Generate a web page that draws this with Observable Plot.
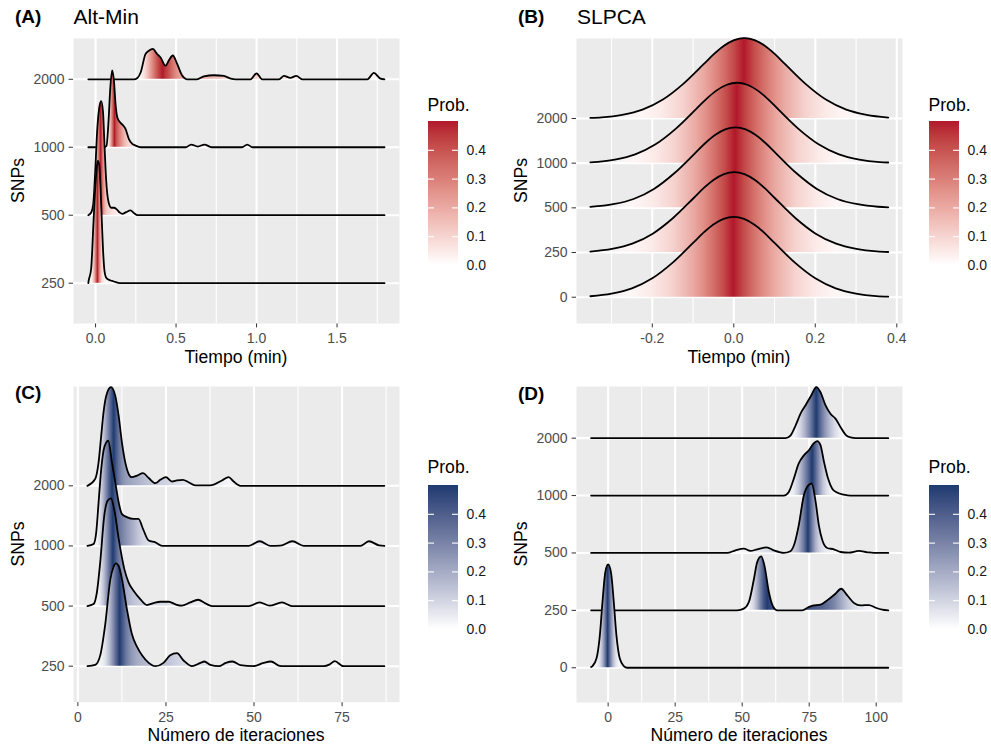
<!DOCTYPE html>
<html><head><meta charset="utf-8">
<script src="https://cdn.jsdelivr.net/npm/d3@7"></script>
<script src="https://cdn.jsdelivr.net/npm/@observablehq/plot@0.6"></script>
<style>
body{margin:0;background:#fff;}
#root{position:relative;width:991px;height:751px;overflow:hidden;font-family:"Liberation Sans",Arial,Helvetica,sans-serif;}
#root svg{position:absolute;overflow:visible;}
</style></head><body><div id="root"></div>
<script>
// ---------------- DATA ----------------
const snpsABC = ["250", "500", "1000", "2000"];
const snpsBD = ["0", "250", "500", "1000", "2000"];

// Panel A: Alt-Min, Tiempo (min) — density curves (x, height in row units)
const altMin250X = [-0.045, -0.0435, -0.027, -0.0145, -0.002, 0.0104, 0.0145, 0.0228, 0.031, 0.039, 0.048, 0.056, 0.068, 0.093, 0.114, 0.151, 1.795];
const altMin250H = [0, 0.025, 0.22, 0.81, 1.40, 1.76, 1.80, 1.74, 1.40, 0.91, 0.42, 0.17, 0.074, 0.04, 0.025, 0, 0];
const altMin500X = [-0.045, -0.027, -0.0145, -0.002, 0.010, 0.023, 0.035, 0.046, 0.056, 0.066, 0.081, 0.097, 0.114, 0.13, 0.15, 0.166, 0.19, 0.217, 0.24, 0.26, 1.795];
const altMin500H = [0, 0.04, 0.16, 0.65, 1.24, 1.58, 1.68, 1.53, 1.0, 0.51, 0.19, 0.11, 0.11, 0.09, 0.04, 0.02, 0.045, 0.07, 0.03, 0, 0];
const altMin1000X = [-0.045, 0.052, 0.068, 0.081, 0.091, 0.1035, 0.114, 0.124, 0.135, 0.151, 0.172, 0.186, 0.207, 0.228, 0.248, 0.28, 0.56, 0.594, 0.635, 0.677, 0.72, 0.91, 0.942, 0.975, 1.795];
const altMin1000H = [0, 0, 0.02, 0.4, 0.85, 1.13, 0.98, 0.64, 0.44, 0.37, 0.32, 0.27, 0.12, 0.05, 0.025, 0, 0, 0.04, 0.01, 0.04, 0, 0, 0.04, 0, 0];
const altMin2000X = [-0.045, 0.238, 0.26, 0.28, 0.31, 0.331, 0.356, 0.383, 0.404, 0.435, 0.455, 0.48, 0.507, 0.538, 0.567, 0.63, 0.673, 0.735, 0.797, 0.84, 0.87, 0.963, 1.0, 1.035, 1.14, 1.17, 1.21, 1.247, 1.284, 1.688, 1.729, 1.77, 1.795];
const altMin2000H = [0, 0, 0.02, 0.10, 0.37, 0.42, 0.446, 0.37, 0.32, 0.20, 0.275, 0.35, 0.225, 0.054, 0, 0, 0.044, 0.059, 0.049, 0.01, 0, 0, 0.088, 0, 0, 0.05, 0.02, 0.05, 0, 0, 0.093, 0.01, 0];

// Panel B: SLPCA, Tiempo (min)
const slpca0X = [-0.352, -0.3, -0.25, -0.2, -0.15, -0.1, -0.075, -0.05, -0.025, 0, 0.025, 0.05, 0.075, 0.1, 0.15, 0.2, 0.25, 0.3, 0.35, 0.379];
const slpca0H = [0.022, 0.081, 0.198, 0.423, 0.774, 1.215, 1.44, 1.629, 1.755, 1.80, 1.755, 1.629, 1.44, 1.215, 0.774, 0.423, 0.198, 0.081, 0.025, 0.012];
const slpca250X = [-0.352, -0.299, -0.249, -0.199, -0.149, -0.099, -0.074, -0.049, -0.024, 0.001, 0.026, 0.051, 0.076, 0.101, 0.151, 0.201, 0.251, 0.301, 0.351, 0.379];
const slpca250H = [0.022, 0.081, 0.198, 0.423, 0.774, 1.215, 1.44, 1.629, 1.755, 1.80, 1.755, 1.629, 1.44, 1.215, 0.774, 0.423, 0.198, 0.081, 0.025, 0.012];
const slpca500X = [-0.352, -0.296, -0.246, -0.196, -0.146, -0.096, -0.071, -0.046, -0.021, 0.004, 0.029, 0.054, 0.079, 0.104, 0.154, 0.204, 0.254, 0.304, 0.354, 0.379];
const slpca500H = [0.02, 0.081, 0.198, 0.423, 0.774, 1.215, 1.44, 1.629, 1.755, 1.80, 1.755, 1.629, 1.44, 1.215, 0.774, 0.423, 0.198, 0.081, 0.025, 0.013];
const slpca1000X = [-0.352, -0.292, -0.242, -0.192, -0.142, -0.092, -0.067, -0.042, -0.017, 0.008, 0.033, 0.058, 0.083, 0.108, 0.158, 0.208, 0.258, 0.308, 0.358, 0.379];
const slpca1000H = [0.018, 0.081, 0.198, 0.423, 0.774, 1.215, 1.44, 1.629, 1.755, 1.80, 1.755, 1.629, 1.44, 1.215, 0.774, 0.423, 0.198, 0.081, 0.025, 0.015];
const slpca2000X = [-0.352, -0.324, -0.274, -0.224, -0.174, -0.124, -0.074, -0.049, -0.024, 0.001, 0.026, 0.051, 0.076, 0.101, 0.126, 0.176, 0.226, 0.276, 0.326, 0.379];
const slpca2000H = [0.012, 0.025, 0.081, 0.198, 0.423, 0.774, 1.215, 1.44, 1.629, 1.755, 1.80, 1.755, 1.629, 1.44, 1.215, 0.774, 0.423, 0.198, 0.081, 0.02];

// Panel C: Alt-Min, Número de iteraciones
const iterC250X = [2.7, 4.9, 6.34, 7.77, 9.19, 10.1, 10.8, 11.55, 12.5, 13.9, 15.3, 16.8, 18.2, 20.1, 22.0, 24.3, 26.2, 28.1, 30.0, 32.4, 34.8, 35.9, 37.6, 40.0, 42.0, 43.9, 46.1, 49.9, 52.7, 54.8, 57.0, 58.4, 69.8, 71.5, 72.9, 75.4, 87.0];
const iterC250H = [0, 0.022, 0.18, 0.70, 1.44, 1.65, 1.71, 1.67, 1.45, 0.95, 0.54, 0.32, 0.18, 0.055, 0, 0.055, 0.18, 0.216, 0.094, 0, 0.055, 0.078, 0.022, 0, 0.055, 0.078, 0.017, 0, 0.055, 0.078, 0.011, 0, 0, 0.03, 0.083, 0, 0];
const iterC500X = [2.7, 4.45, 5.4, 6.34, 7.48, 8.43, 9.38, 10.3, 11.6, 13.2, 14.4, 15.8, 17.7, 19.6, 21.5, 23.4, 25.8, 27.7, 29.5, 31.9, 34.1, 36.2, 38.1, 48.5, 51.6, 54.4, 57.95, 60.8, 87.0];
const iterC500H = [0, 0.033, 0.23, 0.73, 1.50, 1.75, 1.79, 1.61, 1.11, 0.61, 0.39, 0.255, 0.116, 0.017, 0.05, 0.072, 0.072, 0.028, 0.006, 0.06, 0.105, 0.044, 0, 0, 0.061, 0.006, 0.061, 0, 0];
const iterC1000X = [2.7, 4.45, 5.21, 5.87, 6.53, 7.29, 8.05, 8.62, 9.66, 10.6, 11.55, 12.5, 13.9, 15.8, 17.2, 18.5, 20.1, 22.0, 23.9, 48.5, 51.6, 54.6, 57.5, 60.9, 64.1, 80.2, 82.6, 85.5, 87.0];
const iterC1000H = [0, 0.033, 0.23, 0.72, 1.22, 1.59, 1.72, 1.75, 1.39, 1.06, 0.73, 0.53, 0.48, 0.45, 0.45, 0.28, 0.09, 0.06, 0, 0, 0.078, 0, 0.005, 0.078, 0, 0, 0.078, 0.01, 0];
const iterC2000X = [2.7, 4.92, 5.87, 6.63, 7.29, 8.05, 9.38, 10.6, 11.55, 12.5, 13.45, 14.4, 15.3, 16.8, 18.5, 20.1, 22.0, 23.4, 25.0, 26.7, 28.1, 29.8, 31.4, 33.3, 37.6, 40.9, 42.8, 44.2, 46.1, 87.0];
const iterC2000H = [0, 0.116, 0.39, 0.84, 1.23, 1.50, 1.64, 1.50, 1.17, 0.72, 0.39, 0.20, 0.144, 0.17, 0.21, 0.13, 0.044, 0.10, 0.144, 0.072, 0.089, 0.10, 0.06, 0.006, 0.006, 0.089, 0.144, 0.072, 0, 0];

// Panel D: SLPCA, Número de iteraciones
const iterD0X = [-6.35, -5.85, -4.35, -3.1, -2.1, -1.1, 0, 1.1, 2.1, 3.1, 4.35, 5.85, 7.1, 104.5];
const iterD0H = [0.012, 0.03, 0.16, 0.56, 1.15, 1.65, 1.80, 1.65, 1.15, 0.56, 0.16, 0.03, 0, 0];
const iterD250X = [-6.35, 48.1, 50.6, 52.5, 54.4, 55.6, 57.1, 58.3, 59.95, 61.6, 63.1, 72.4, 74.9, 76.7, 79.2, 81.7, 84.8, 86.9, 89.2, 91.7, 94.2, 97.3, 99.8, 102.2, 104.5];
const iterD250H = [0, 0, 0.03, 0.145, 0.55, 0.84, 0.94, 0.78, 0.32, 0.058, 0, 0, 0.058, 0.087, 0.099, 0.174, 0.29, 0.377, 0.26, 0.128, 0.087, 0.093, 0.046, 0.012, 0];
const iterD500X = [-6.35, 44.4, 47.5, 50.6, 53.1, 55.6, 59.1, 61.8, 65.5, 68.0, 69.5, 71.1, 73.0, 74.5, 75.9, 77.4, 78.6, 79.9, 81.7, 84.2, 86.7, 89.8, 93.5, 96.6, 99.1, 104.5];
const iterD500H = [0, 0, 0.046, 0.075, 0.035, 0.064, 0.099, 0.046, 0, 0.03, 0.16, 0.48, 1.0, 1.17, 1.21, 0.89, 0.48, 0.22, 0.087, 0.064, 0.017, 0.006, 0.035, 0.012, 0, 0];
const iterD1000X = [-6.35, 65.5, 67.4, 69.3, 71.1, 73.0, 74.9, 76.7, 78.0, 79.2, 80.5, 82.0, 83.6, 85.4, 87.9, 90.4, 104.5];
const iterD1000H = [0, 0, 0.064, 0.30, 0.56, 0.70, 0.79, 0.91, 0.95, 0.88, 0.59, 0.30, 0.12, 0.052, 0.017, 0, 0];
const iterD2000X = [-6.35, 66.2, 68.0, 69.9, 72.0, 73.6, 75.7, 77.7, 79.2, 81.1, 83.0, 84.8, 86.7, 88.6, 90.4, 92.3, 104.5];
const iterD2000H = [0, 0, 0.046, 0.22, 0.45, 0.57, 0.74, 0.89, 0.80, 0.57, 0.42, 0.34, 0.19, 0.058, 0.012, 0, 0];

// Axis ticks
const ticksA = [0, 0.5, 1, 1.5], ticksALabels = ["0.0", "0.5", "1.0", "1.5"], minorA = [0.25, 0.75, 1.25, 1.75];
const ticksB = [-0.2, 0, 0.2, 0.4], ticksBLabels = ["-0.2", "0.0", "0.2", "0.4"], minorB = [-0.3, -0.1, 0.1, 0.3];
const ticksC = [0, 25, 50, 75], ticksCLabels = ["0", "25", "50", "75"], minorC = [12.5, 37.5, 62.5, 87.5];
const ticksD = [0, 25, 50, 75, 100], ticksDLabels = ["0", "25", "50", "75", "100"], minorD = [12.5, 37.5, 62.5, 87.5];
const legendTicks = [0, 0.1, 0.2, 0.3, 0.4];
const legendMax = 0.5;

const RED = "#B2182B", BLUE = "#1E3B70";
const FONT = '"Liberation Sans", Arial, Helvetica, sans-serif';
const root = document.getElementById("root");

// ---------------- helpers ----------------
function tailStops(xs, hs) {
  const n = xs.length, c = [0];
  for (let i = 1; i < n; i++) c.push(c[i - 1] + (xs[i] - xs[i - 1]) * (hs[i] + hs[i - 1]) / 2);
  const T = c[n - 1], x0 = xs[0], span = xs[n - 1] - x0, out = [];
  for (let i = 0; i < n; i++) {
    const f = c[i] / T;
    out.push({o: (xs[i] - x0) / span, p: 0.5 - Math.abs(f - 0.5)});
    if (i < n - 1) {
      const f2 = c[i + 1] / T;
      if (f < 0.5 && f2 > 0.5) {
        const t = (0.5 - f) / (f2 - f);
        out.push({o: (xs[i] + t * (xs[i + 1] - xs[i]) - x0) / span, p: 0.5});
      }
    }
  }
  return out;
}

function styleAxes(svg, labelColor) {
  const s = d3.select(svg);
  s.selectAll("text").style("font-size", "14px").style("font-family", FONT).attr("fill", labelColor);
  s.selectAll('g[aria-label$="tick"] path, g[aria-label$="tick"] line').attr("stroke", "#333333");
}

function ridgePanel(cfg) {
  const {key, left, top, width, height, margins, xDomain, yDomain, ticks, tickLabels, minor, cats, ridges, high} = cfg;
  const interp = d3.interpolateLab("#ffffff", high);
  const marks = [
    Plot.frame({fill: "#EBEBEB", stroke: "none"}),
    Plot.ruleX(minor, {stroke: "#ffffff", strokeWidth: 1.1}),
    Plot.ruleX(ticks, {stroke: "#ffffff", strokeWidth: 2.1}),
    Plot.ruleY(cats.map((c, i) => i + 1), {stroke: "#ffffff", strokeWidth: 2.1})
  ];
  const grads = [];
  const order = ridges.map((r, i) => i).sort((a, b) => cats.indexOf(ridges[b].cat) - cats.indexOf(ridges[a].cat));
  for (const ri of order) {
    const r = ridges[ri];
    const idx = cats.indexOf(r.cat) + 1;
    const rows = r.xs.map((x, i) => ({x, y0: idx, y1: idx + r.hs[i]}));
    const gid = `grad-${key}-${ri}`;
    grads.push({gid, stops: tailStops(r.xs, r.hs)});
    marks.push(Plot.areaY(rows, {x: "x", y1: "y0", y2: "y1", fill: `url(#${gid})`, curve: "monotone-x"}));
    marks.push(Plot.lineY(rows, {x: "x", y: "y1", stroke: "#000000", strokeWidth: 1.8, curve: "monotone-x"}));
  }
  const yt = cats.map((c, i) => i + 1);
  const svg = Plot.plot({
    width, height,
    marginLeft: margins[0], marginRight: margins[1], marginTop: margins[2], marginBottom: margins[3],
    style: {background: "none", fontSize: "14px", fontFamily: FONT, color: "#4D4D4D", overflow: "visible"},
    x: {domain: xDomain, ticks: ticks, tickFormat: d => tickLabels[ticks.indexOf(d)], tickSize: 4.4, tickPadding: 5.5, label: null},
    y: {domain: yDomain, ticks: yt, tickFormat: d => cats[d - 1], tickSize: 4.4, tickPadding: 4.5, label: null},
    marks
  });
  styleAxes(svg, "#4D4D4D");
  const defs = d3.select(svg).insert("defs", ":first-child");
  for (const g of grads) {
    const lg = defs.append("linearGradient").attr("id", g.gid).attr("x1", 0).attr("y1", 0).attr("x2", 1).attr("y2", 0);
    for (const s of g.stops) {
      lg.append("stop").attr("offset", Math.max(0, Math.min(1, s.o)))
        .attr("stop-color", interp(Math.min(1, s.p / legendMax)))
        .attr("stop-opacity", Math.min(1, s.p / 0.02));
    }
  }
  svg.style.left = left + "px";
  svg.style.top = top + "px";
  root.appendChild(svg);
}

function legendBar(key, left, top, barTop, barBottom, high) {
  const h = barBottom - top + 16;
  const interp = d3.interpolateLab("#ffffff", high);
  const gid = "lg-" + key;
  const svg = Plot.plot({
    width: 70, height: h,
    marginLeft: 0, marginRight: 40, marginTop: barTop - top, marginBottom: h - (barBottom - top),
    style: {background: "none", fontSize: "14px", fontFamily: FONT, color: "#1A1A1A", overflow: "visible"},
    x: {domain: [0, 1], axis: null},
    y: {domain: [0, legendMax], axis: "right", ticks: legendTicks, tickFormat: d3.format(".1f"), tickSize: 0, tickPadding: 8, label: null},
    marks: [
      Plot.rect([{a: 0, b: 1, c: 0, d: legendMax}], {x1: "a", x2: "b", y1: "c", y2: "d", fill: `url(#${gid})`}),
      Plot.ruleY(legendTicks.map(v => ({v, a: 0, b: 0.2})), {y: "v", x1: "a", x2: "b", stroke: "#ffffff", strokeWidth: 1.1}),
      Plot.ruleY(legendTicks.map(v => ({v, a: 0.8, b: 1})), {y: "v", x1: "a", x2: "b", stroke: "#ffffff", strokeWidth: 1.1})
    ]
  });
  styleAxes(svg, "#1A1A1A");
  const lg = d3.select(svg).insert("defs", ":first-child").append("linearGradient")
    .attr("id", gid).attr("x1", 0).attr("y1", 1).attr("x2", 0).attr("y2", 0);
  for (let k = 0; k <= 10; k++) lg.append("stop").attr("offset", k / 10).attr("stop-color", interp(k / 10));
  svg.style.left = left + "px";
  svg.style.top = top + "px";
  root.appendChild(svg);
}

// ---------------- panels ----------------
ridgePanel({
  key: "A", left: 0, top: 0, width: 410, height: 375, margins: [73, 11, 38, 52],
  xDomain: [-0.137, 1.888], yDomain: [0.407, 4.6], ticks: ticksA, tickLabels: ticksALabels, minor: minorA,
  cats: snpsABC, high: RED,
  ridges: [
    {cat: "250", xs: altMin250X, hs: altMin250H},
    {cat: "500", xs: altMin500X, hs: altMin500H},
    {cat: "1000", xs: altMin1000X, hs: altMin1000H},
    {cat: "2000", xs: altMin2000X, hs: altMin2000H}
  ]
});
ridgePanel({
  key: "B", left: 490, top: 0, width: 420, height: 375, margins: [86, 8, 38, 52],
  xDomain: [-0.386, 0.414], yDomain: [0.412, 6.79], ticks: ticksB, tickLabels: ticksBLabels, minor: minorB,
  cats: snpsBD, high: RED,
  ridges: [
    {cat: "0", xs: slpca0X, hs: slpca0H},
    {cat: "250", xs: slpca250X, hs: slpca250H},
    {cat: "500", xs: slpca500X, hs: slpca500H},
    {cat: "1000", xs: slpca1000X, hs: slpca1000H},
    {cat: "2000", xs: slpca2000X, hs: slpca2000H}
  ]
});
ridgePanel({
  key: "C", left: 0, top: 375, width: 410, height: 376, margins: [73, 11, 11, 49.3],
  xDomain: [-1.25, 91.3], yDomain: [0.401, 5.652], ticks: ticksC, tickLabels: ticksCLabels, minor: minorC,
  cats: snpsABC, high: BLUE,
  ridges: [
    {cat: "250", xs: iterC250X, hs: iterC250H},
    {cat: "500", xs: iterC500X, hs: iterC500H},
    {cat: "1000", xs: iterC1000X, hs: iterC1000H},
    {cat: "2000", xs: iterC2000X, hs: iterC2000H}
  ]
});
ridgePanel({
  key: "D", left: 490, top: 375, width: 420, height: 376, margins: [86, 8, 11, 49],
  xDomain: [-11.8, 109.8], yDomain: [0.395, 5.90], ticks: ticksD, tickLabels: ticksDLabels, minor: minorD,
  cats: snpsBD, high: BLUE,
  ridges: [
    {cat: "0", xs: iterD0X, hs: iterD0H},
    {cat: "250", xs: iterD250X, hs: iterD250H},
    {cat: "500", xs: iterD500X, hs: iterD500H},
    {cat: "1000", xs: iterD1000X, hs: iterD1000H},
    {cat: "2000", xs: iterD2000X, hs: iterD2000H}
  ]
});

legendBar("A", 428, 100, 121, 265, RED);
legendBar("B", 929, 100, 121, 265, RED);
legendBar("C", 428, 465, 485, 629, BLUE);
legendBar("D", 929, 465, 485, 629, BLUE);

// ---------------- text overlay ----------------
const ov = d3.select(root).append("svg").attr("width", 991).attr("height", 751)
  .style("left", "0px").style("top", "0px").style("pointer-events", "none")
  .attr("font-family", FONT);
function txt(x, y, s, size, opts = {}) {
  const t = ov.append("text").attr("x", x).attr("y", y).attr("font-size", size).attr("fill", opts.fill || "#000").text(s);
  if (opts.bold) t.attr("font-weight", "bold");
  if (opts.anchor) t.attr("text-anchor", opts.anchor);
  if (opts.rotate) t.attr("transform", `rotate(-90 ${x} ${y})`);
  return t;
}
const tags = [["(A)", 15, 22.7], ["(B)", 518, 22.7], ["(C)", 15, 399.3], ["(D)", 518, 399.8]];
for (const [s, x, y] of tags) txt(x, y, s, 19, {bold: true});
txt(73.5, 23.8, "Alt-Min", 21);
txt(577, 23.8, "SLPCA", 21);
const xTitles = [["Tiempo (min)", 236, 363.3], ["Tiempo (min)", 739, 363.3], ["Número de iteraciones", 236, 741], ["Número de iteraciones", 739, 741]];
for (const [s, x, y] of xTitles) txt(x, y, s, 17.6, {anchor: "middle"});
const yTitles = [[23.8, 180.5], [526.6, 180.5], [23.8, 544], [526.6, 544]];
for (const [x, y] of yTitles) txt(x, y, "SNPs", 17.6, {anchor: "middle", rotate: true});
const legTitles = [[427.5, 110.7], [928.5, 110.7], [427.5, 473.3], [928.5, 473.3]];
for (const [x, y] of legTitles) txt(x, y, "Prob.", 17.6);
</script>
</body></html>
